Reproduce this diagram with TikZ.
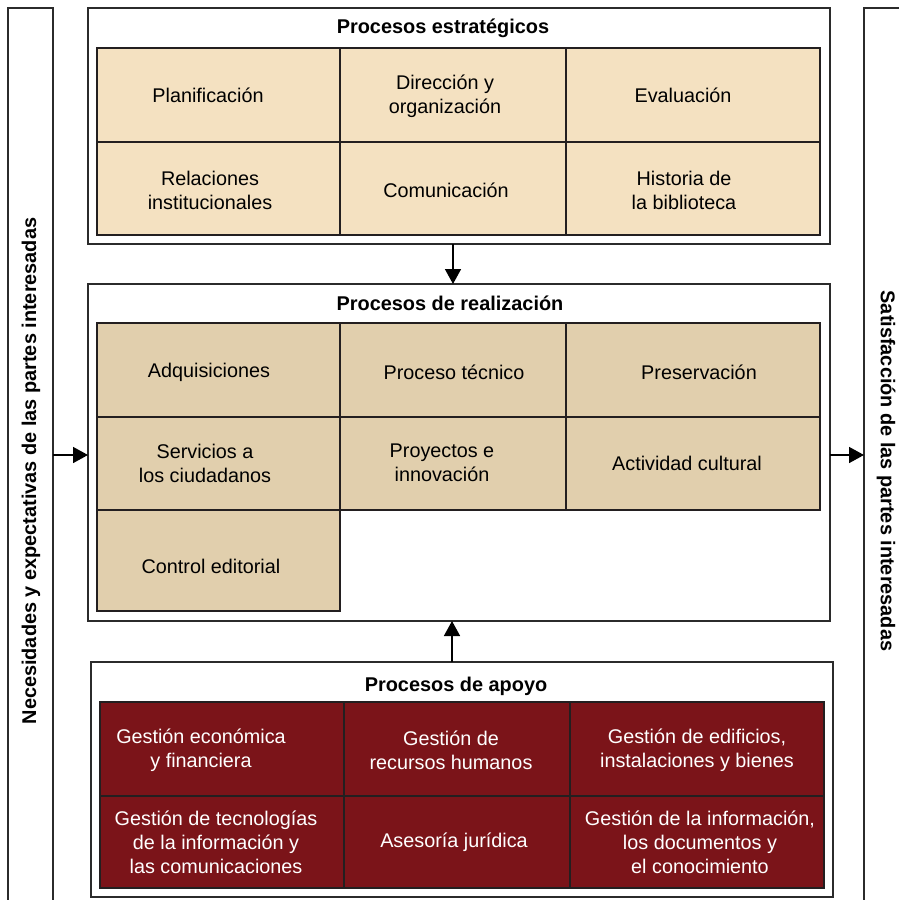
\documentclass[tikz,border=0pt]{standalone}
\usepackage{fontspec}
\setmainfont{Liberation Sans}
\usetikzlibrary{arrows.meta}

\definecolor{frameline}{HTML}{2B2B2B}
\definecolor{cellline}{HTML}{231F20}
\definecolor{stratfill}{HTML}{F4E1C1}
\definecolor{realfill}{HTML}{E1CFAD}
\definecolor{apoyofill}{HTML}{7B1419}

\tikzset{
  frame/.style={draw=frameline, line width=2pt, fill=white, inner sep=0pt, outer sep=0pt},
  cellbox/.style={draw=cellline, line width=2pt, inner sep=0pt, outer sep=0pt},
  stratcell/.style={cellbox, fill=stratfill},
  realcell/.style={cellbox, fill=realfill},
  apoyocell/.style={cellbox, fill=apoyofill},
  celltext/.style={align=center, font=\fontsize{19.8}{24}\selectfont, text=black, inner sep=0pt},
  whitetext/.style={celltext, text=white},
  heading/.style={font=\bfseries\fontsize{19.9}{24}\selectfont, inner sep=0pt},
  flow/.style={line width=1.6pt, draw=black, -{Triangle[length=15pt, width=16pt]}}
}

% rectangle node spanning two corners given in pixel-like units
\newcommand{\boxnode}[6]{%
  \node[#1, minimum width=#4-#2, minimum height=#5-#3, anchor=north west] (#6) at (#2,#3) {};}

\begin{document}
\begin{tikzpicture}[x=1pt, y=-1pt]
\clip (0,0) rectangle (899,900);
\fill[white] (0,0) rectangle (899,900);

% side bars
\boxnode{frame}{8}{8}{53}{915}{inbar}
\boxnode{frame}{864}{8}{909}{915}{outbar}
\node[heading, rotate=90] (intext) at (31,471) {Necesidades y expectativas de las partes interesadas};
\node[heading, rotate=-90] (outtext) at (886,471) {Satisfacción de las partes interesadas};

% strategic processes
\boxnode{frame}{88}{8}{830}{244}{strat}
\node[heading] (strattitle) at (443,28) {Procesos estratégicos};
\boxnode{stratcell}{97}{48}{340}{142}{s1}
\boxnode{stratcell}{340}{48}{566}{142}{s2}
\boxnode{stratcell}{566}{48}{820}{142}{s3}
\boxnode{stratcell}{97}{142}{340}{235}{s4}
\boxnode{stratcell}{340}{142}{566}{235}{s5}
\boxnode{stratcell}{566}{142}{820}{235}{s6}
\node[celltext] at (208,95) {Planificación};
\node[celltext] at (445,96) {Dirección y\\organización};
\node[celltext] at (683,95) {Evaluación};
\node[celltext] at (210,190) {Relaciones\\institucionales};
\node[celltext] at (446,190) {Comunicación};
\node[celltext] at (684,190) {Historia de\\la biblioteca};

% realization processes
\boxnode{frame}{88}{284}{830}{621}{real}
\node[heading] (realtitle) at (450,303) {Procesos de realización};
\boxnode{realcell}{97}{323}{340}{417}{r1}
\boxnode{realcell}{340}{323}{566}{417}{r2}
\boxnode{realcell}{566}{323}{820}{417}{r3}
\boxnode{realcell}{97}{417}{340}{510}{r4}
\boxnode{realcell}{340}{417}{566}{510}{r5}
\boxnode{realcell}{566}{417}{820}{510}{r6}
\boxnode{realcell}{97}{510}{340}{611}{r7}
\node[celltext] at (209,372) {Adquisiciones};
\node[celltext] at (454,372) {Proceso técnico};
\node[celltext] at (699,372) {Preservación};
\node[celltext] at (205,463) {Servicios a\\los ciudadanos};
\node[celltext] at (442,463) {Proyectos e\\innovación};
\node[celltext] at (687,463) {Actividad cultural};
\node[celltext] at (211,566) {Control editorial};

% support processes
\boxnode{frame}{91}{662}{833}{897}{apoyo}
\node[heading] (apoyotitle) at (456,686) {Procesos de apoyo};
\boxnode{apoyocell}{100}{702}{344}{796}{a1}
\boxnode{apoyocell}{344}{702}{570}{796}{a2}
\boxnode{apoyocell}{570}{702}{824}{796}{a3}
\boxnode{apoyocell}{100}{796}{344}{888}{a4}
\boxnode{apoyocell}{344}{796}{570}{888}{a5}
\boxnode{apoyocell}{570}{796}{824}{888}{a6}
\node[whitetext] at (201,750) {Gestión económica\\y financiera};
\node[whitetext] at (451,750) {Gestión de\\recursos humanos};
\node[whitetext] at (697,750) {Gestión de edificios,\\instalaciones y bienes};
\node[whitetext] at (216,842) {Gestión de tecnologías\\de la información y\\las comunicaciones};
\node[whitetext] at (454,842) {Asesoría jurídica};
\node[whitetext] at (700,842) {Gestión de la información,\\los documentos y\\el conocimiento};

% flows between the blocks
\draw[flow] (strat.south -| 453,0) -- (real.north -| 453,0);
\draw[flow] (apoyo.north -| 452,0) -- (real.south -| 452,0);
\draw[flow] (inbar.east |- 0,455) -- (real.west |- 0,455);
\draw[flow] (real.east |- 0,455) -- (outbar.west |- 0,455);
\end{tikzpicture}
\end{document}
